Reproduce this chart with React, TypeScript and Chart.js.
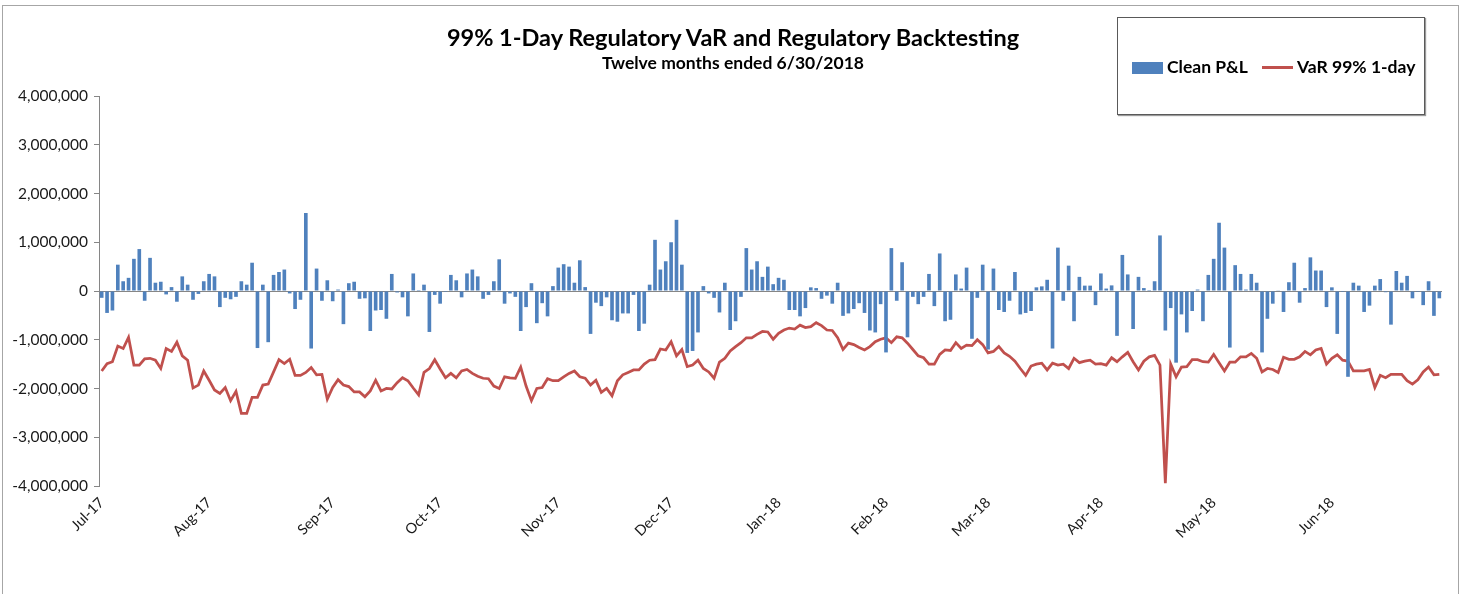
import React, { useEffect, useRef } from "react";
import { Chart, registerables } from "chart.js";

Chart.register(...registerables);

const monthLabels = ["Jul-17", "Aug-17", "Sep-17", "Oct-17", "Nov-17", "Dec-17", "Jan-18", "Feb-18", "Mar-18", "Apr-18", "May-18", "Jun-18"];
const tradingDaysPerMonth = [20, 23, 20, 22, 21, 20, 20, 19, 21, 21, 22, 21];

const cleanPnL = [
  -140000, -450000, -400000, 540000, 200000, 270000, 660000, 860000, -200000, 680000,
  170000, 190000, -70000, 80000, -220000, 300000, 130000, -180000, -60000, 200000,
  350000, 300000, -330000, -140000, -170000, -120000, 200000, 130000, 580000, -1170000,
  130000, -1050000, 330000, 390000, 440000, -50000, -370000, -180000, 1600000, -1180000,
  460000, -200000, 220000, -210000, 30000, -680000, 160000, 190000, -160000, -150000,
  -820000, -400000, -390000, -570000, 350000, -30000, -130000, -520000, 360000, 20000,
  130000, -840000, -80000, -260000, -20000, 330000, 220000, -130000, 360000, 440000,
  300000, -160000, -80000, 200000, 650000, -260000, -50000, -120000, -820000, -330000,
  160000, -660000, -250000, -520000, 100000, 480000, 550000, 500000, 170000, 630000,
  80000, -880000, -240000, -310000, -130000, -600000, -630000, -460000, -460000, -80000,
  -820000, -670000, 130000, 1050000, 440000, 610000, 1000000, 1460000, 540000, -1270000,
  -1230000, -850000, 100000, -50000, -140000, -440000, 170000, -800000, -620000, -120000,
  880000, 440000, 610000, 290000, 500000, 140000, 270000, 230000, -390000, -390000,
  -520000, -350000, 75000, 60000, -160000, -95000, -260000, 170000, -510000, -460000,
  -370000, -250000, -450000, -810000, -850000, -270000, -1260000, 880000, -200000, 590000,
  -950000, -120000, -270000, -120000, 350000, -310000, 770000, -620000, -590000, 340000,
  50000, 480000, -980000, -140000, 540000, -1200000, 460000, -390000, -430000, -200000,
  390000, -480000, -450000, -410000, 75000, 95000, 230000, -1180000, 890000, -200000,
  520000, -620000, 290000, 110000, 110000, -290000, 360000, 50000, 115000, -920000,
  740000, 340000, -780000, 290000, 60000, 20000, 200000, 1140000, -810000, -350000,
  -1470000, -480000, -850000, -410000, 30000, -620000, 330000, 660000, 1400000, 890000,
  -1160000, 530000, 350000, 30000, 350000, 170000, -1260000, -570000, -260000, 15000,
  -430000, 180000, 580000, -240000, 60000, 690000, 420000, 420000, -330000, 75000,
  -880000, -20000, -1760000, 170000, 110000, -430000, -300000, 110000, 245000, -25000,
  -690000, 410000, 170000, 310000, -150000, -20000, -290000, 200000, -510000, -150000,
];

const var99 = [
  -1640000, -1490000, -1450000, -1130000, -1180000, -950000, -1520000, -1520000, -1390000, -1380000,
  -1420000, -1590000, -1180000, -1240000, -1050000, -1330000, -1420000, -1990000, -1930000, -1640000,
  -1830000, -2030000, -2100000, -1980000, -2250000, -2060000, -2510000, -2510000, -2180000, -2180000,
  -1930000, -1910000, -1660000, -1410000, -1490000, -1400000, -1730000, -1730000, -1670000, -1570000,
  -1720000, -1710000, -2220000, -1980000, -1820000, -1930000, -1960000, -2070000, -2070000, -2170000,
  -2050000, -1830000, -2050000, -2000000, -2010000, -1880000, -1780000, -1840000, -1990000, -2130000,
  -1670000, -1590000, -1410000, -1600000, -1780000, -1690000, -1780000, -1640000, -1610000, -1690000,
  -1750000, -1790000, -1800000, -1950000, -2000000, -1760000, -1780000, -1790000, -1560000, -1950000,
  -2250000, -2000000, -1980000, -1800000, -1840000, -1840000, -1760000, -1690000, -1640000, -1760000,
  -1790000, -1930000, -1830000, -2080000, -2000000, -2150000, -1840000, -1720000, -1670000, -1620000,
  -1620000, -1500000, -1420000, -1410000, -1190000, -1210000, -1040000, -1330000, -1200000, -1550000,
  -1520000, -1420000, -1590000, -1660000, -1790000, -1460000, -1380000, -1230000, -1140000, -1060000,
  -960000, -960000, -890000, -830000, -840000, -990000, -870000, -800000, -760000, -780000,
  -700000, -750000, -730000, -650000, -710000, -800000, -810000, -960000, -1200000, -1070000,
  -1100000, -1160000, -1210000, -1140000, -1040000, -990000, -960000, -1060000, -940000, -960000,
  -1070000, -1200000, -1330000, -1370000, -1500000, -1500000, -1300000, -1210000, -1220000, -1060000,
  -1180000, -1110000, -1120000, -1000000, -1100000, -1270000, -1240000, -1140000, -1270000, -1340000,
  -1440000, -1590000, -1730000, -1540000, -1500000, -1480000, -1620000, -1480000, -1520000, -1500000,
  -1590000, -1380000, -1470000, -1440000, -1420000, -1500000, -1490000, -1520000, -1370000, -1450000,
  -1350000, -1260000, -1450000, -1620000, -1440000, -1350000, -1320000, -1520000, -3940000, -1500000,
  -1760000, -1560000, -1550000, -1410000, -1410000, -1450000, -1460000, -1300000, -1470000, -1640000,
  -1460000, -1460000, -1350000, -1350000, -1280000, -1380000, -1660000, -1590000, -1610000, -1670000,
  -1360000, -1400000, -1400000, -1350000, -1240000, -1310000, -1210000, -1180000, -1500000, -1380000,
  -1310000, -1420000, -1440000, -1640000, -1640000, -1640000, -1610000, -1980000, -1730000, -1780000,
  -1710000, -1710000, -1710000, -1840000, -1910000, -1820000, -1660000, -1560000, -1720000, -1710000,
];

function buildLabels(): string[] {
  const out: string[] = [];
  monthLabels.forEach((m, i) => {
    for (let d = 0; d < tradingDaysPerMonth[i]; d++) out.push(d === 0 ? m : "");
  });
  return out;
}

const FONT = "Lato, 'Noto Sans', sans-serif";

export default function App() {
  const ref = useRef<HTMLCanvasElement>(null);

  useEffect(() => {
    if (!ref.current) return;
    const labels = buildLabels();
    const chart = new Chart(ref.current, {
      data: {
        labels,
        datasets: [
          {
            type: "bar",
            label: "Clean P&L",
            data: cleanPnL,
            backgroundColor: "#4F81BD",
            barPercentage: 0.68,
            categoryPercentage: 1,
            order: 0,
          },
          {
            type: "line",
            label: "VaR 99% 1-day",
            data: var99,
            borderColor: "#C0504D",
            borderWidth: 2.75,
            pointRadius: 0,
            tension: 0,
            fill: false,
            order: 1,
          },
        ],
      } as any,
      options: {
        responsive: false,
        animation: false,
        layout: { padding: { top: 96, right: 21, left: 0, bottom: 0 } },
        plugins: {
          legend: { display: false },
          tooltip: { enabled: false },
          title: { display: false },
        },
        scales: {
          x: {
            type: "category",
            offset: true,
            grid: { display: false, drawTicks: false },
            border: { display: false },
            ticks: {
              autoSkip: false,
              maxRotation: 45,
              minRotation: 45,
              padding: 8,
              color: "#1a1a1a",
              font: { family: FONT, size: 14.5 },
            },
            afterFit: (s: any) => {
              s.height = 108;
            },
          },
          y: {
            min: -4000000,
            max: 4000000,
            ticks: {
              stepSize: 1000000,
              padding: 6,
              color: "#1a1a1a",
              font: { family: FONT, size: 15.5 },
              callback: (v: any) => Number(v).toLocaleString("en-US"),
            },
            grid: {
              color: (ctx: any) => (ctx.tick && ctx.tick.value === 0 ? "#868686" : "rgba(0,0,0,0)"),
              tickColor: "#868686",
              tickLength: 5,
              lineWidth: 1,
            },
            border: { display: true, color: "#868686" },
            afterFit: (s: any) => {
              s.width = 99;
            },
          },
        },
      } as any,
    });
    return () => chart.destroy();
  }, []);

  return (
    <div style={{ position: "fixed", left: 0, top: 0, width: 1463, height: 594, background: "#fff", overflow: "hidden", fontFamily: FONT }}>
      <canvas ref={ref} width={1463} height={594} style={{ position: "absolute", left: 0, top: 0, width: 1463, height: 594 }} />
      <div style={{ position: "absolute", left: 2, top: 5, width: 1457, height: 640, border: "1px solid #a6a6a6", boxSizing: "border-box", pointerEvents: "none" }} />
      <div style={{ position: "absolute", left: 0, top: 22, width: 1466, textAlign: "center", fontWeight: 700, fontSize: 23.5, lineHeight: "30px", color: "#000", whiteSpace: "nowrap" }}>
        99% 1-Day Regulatory VaR and Regulatory Backtesting
      </div>
      <div style={{ position: "absolute", left: 0, top: 52, width: 1466, textAlign: "center", fontWeight: 700, fontSize: 17.5, lineHeight: "22px", color: "#000", whiteSpace: "nowrap" }}>
        Twelve months ended 6/30/2018
      </div>
      <div style={{ position: "absolute", left: 1117, top: 17, width: 308, height: 98, border: "1px solid #595959", boxSizing: "border-box", background: "#fff", boxShadow: "1px 1px 1px #9a9a9a" }}>
        <div style={{ position: "absolute", left: 14, top: 44, width: 31, height: 12, background: "#4F81BD" }} />
        <div style={{ position: "absolute", left: 49, top: 38, fontWeight: 700, fontSize: 17.5, lineHeight: "22px", color: "#000", whiteSpace: "nowrap" }}>Clean P&amp;L</div>
        <div style={{ position: "absolute", left: 144, top: 48, width: 31, height: 3, background: "#C0504D" }} />
        <div style={{ position: "absolute", left: 179, top: 38, fontWeight: 700, fontSize: 17.5, lineHeight: "22px", color: "#000", whiteSpace: "nowrap" }}>VaR 99% 1-day</div>
      </div>
    </div>
  );
}
